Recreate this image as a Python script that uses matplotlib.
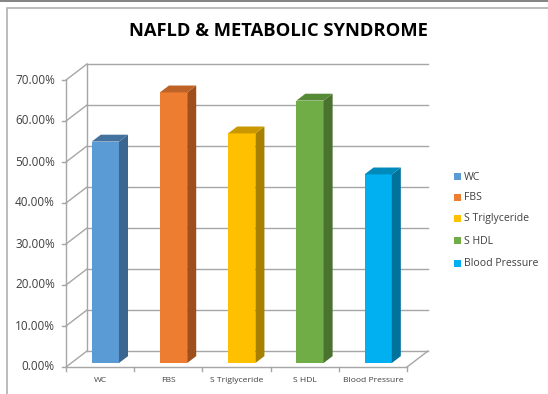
import matplotlib
matplotlib.use("Agg")
import matplotlib.pyplot as plt
from matplotlib.patches import Polygon, Rectangle
from matplotlib.lines import Line2D

categories = ["WC", "FBS", "S Triglyceride", "S HDL", "Blood Pressure"]
values = [54, 66, 56, 64, 46]  # percent
y_ticks = [0, 10, 20, 30, 40, 50, 60, 70]
y_tick_labels = ["0.00%", "10.00%", "20.00%", "30.00%", "40.00%", "50.00%", "60.00%", "70.00%"]

front_colors = ["#5B9BD5", "#ED7D31", "#FFC000", "#70AD47", "#00B0F0"]
side_colors = ["#3A6690", "#9E4F1C", "#A88000", "#4A7330", "#00739C"]
top_colors = ["#44729E", "#BE6325", "#C99700", "#578A37", "#0089BB"]

W, H = 548, 394
fig = plt.figure(figsize=(W / 100, H / 100), dpi=100)
fig.patch.set_facecolor("white")

# chart frame
fig.add_artist(Line2D([0, 1], [1 - 0.5 / H, 1 - 0.5 / H], color="#6e6e6e", lw=1.2, transform=fig.transFigure))
fig.add_artist(Rectangle((7 / W, -0.05), 1.2, 1 - 8 / H + 0.05, fill=False, ec="#b0b0b0", lw=1.2,
                         transform=fig.transFigure))

# front plane of the plot area
x0, x1 = 66, 407
y0, y1 = 367, 80
ax = fig.add_axes([x0 / W, 1 - y0 / H, (x1 - x0) / W, (y0 - y1) / H])
ax.set_xlim(-0.5, len(categories) - 0.5)
ax.set_ylim(0, 70)
ax.axis("off")

# oblique depth offset, in data units
px_x = (len(categories)) / (x1 - x0)
px_y = 70 / (y0 - y1)
DX = 21 * px_x
DY = 16 * px_y

grid_c = "#a6a6a6"
lw = 1.0
xl, xr = -0.5, len(categories) - 0.5

# back wall gridlines and side wall diagonals
for t in y_ticks:
    ax.plot([xl + DX, xr + DX], [t + DY, t + DY], color=grid_c, lw=lw, clip_on=False, zorder=1)
    ax.plot([xl, xl + DX], [t, t + DY], color=grid_c, lw=lw, clip_on=False, zorder=1)
ax.plot([xl + DX, xl + DX], [DY, 70 + DY], color=grid_c, lw=lw, clip_on=False, zorder=1)
# floor
ax.plot([xl, xr], [0, 0], color=grid_c, lw=lw, clip_on=False, zorder=1)
ax.plot([xr, xr + DX], [0, DY], color=grid_c, lw=lw, clip_on=False, zorder=1)
# vertical axis
ax.plot([xl, xl], [0, 70], color=grid_c, lw=lw, clip_on=False, zorder=1)

# ticks
for t, lab in zip(y_ticks, y_tick_labels):
    ax.plot([xl - 4 * px_x, xl], [t, t], color=grid_c, lw=lw, clip_on=False)
    ax.text(xl - 11 * px_x, t, lab, ha="right", va="center", fontsize=8.5, color="#404040",
            family=["Open Sans", "DejaVu Sans"])
for i in range(len(categories) + 1):
    xb = xl + i
    ax.plot([xb, xb], [0, -4 * px_y], color=grid_c, lw=lw, clip_on=False)
for i, c in enumerate(categories):
    ax.text(i, -14 * px_y, c, ha="center", va="center", fontsize=6.1, color="#404040",
            family=["Open Sans", "DejaVu Sans"])

# 3D columns
bw = 0.4
d0, d1 = 0.25, 0.68
for i, v in enumerate(values):
    ox, oy = d0 * DX, d0 * DY
    ddx, ddy = (d1 - d0) * DX, (d1 - d0) * DY
    left = i - bw / 2 + ox
    right = i + bw / 2 + ox
    bottom = oy
    top = v + oy
    ax.bar([i + ox], [v], width=bw, bottom=bottom, color=front_colors[i],
           edgecolor="none", zorder=3, clip_on=False)
    side = Polygon([[right, bottom], [right + ddx, bottom + ddy], [right + ddx, top + ddy], [right, top]],
                   closed=True, fc=side_colors[i], ec="none", zorder=3, clip_on=False)
    cap = Polygon([[left, top], [right, top], [right + ddx, top + ddy], [left + ddx, top + ddy]],
                  closed=True, fc=top_colors[i], ec="none", zorder=3, clip_on=False)
    ax.add_patch(side)
    ax.add_patch(cap)

# legend
leg_x = 455
leg_y = [177, 198, 219, 241, 264]
for c, lab, yy in zip(front_colors, categories, leg_y):
    fig.add_artist(Rectangle(((leg_x - 1) / W, 1 - (yy + 3) / H), 7 / W, 7 / H, fc=c, ec="none",
                             transform=fig.transFigure))
    fig.text((leg_x + 9) / W, 1 - yy / H, lab, ha="left", va="center", fontsize=7.6, color="#404040",
             family=["Open Sans", "DejaVu Sans"])

fig.text(278 / W, 1 - 31 / H, "NAFLD & METABOLIC SYNDROME", ha="center", va="center",
         fontsize=13.2, fontweight="bold", color="black", family=["Open Sans", "DejaVu Sans"])

fig.savefig("out.png", dpi=100)
